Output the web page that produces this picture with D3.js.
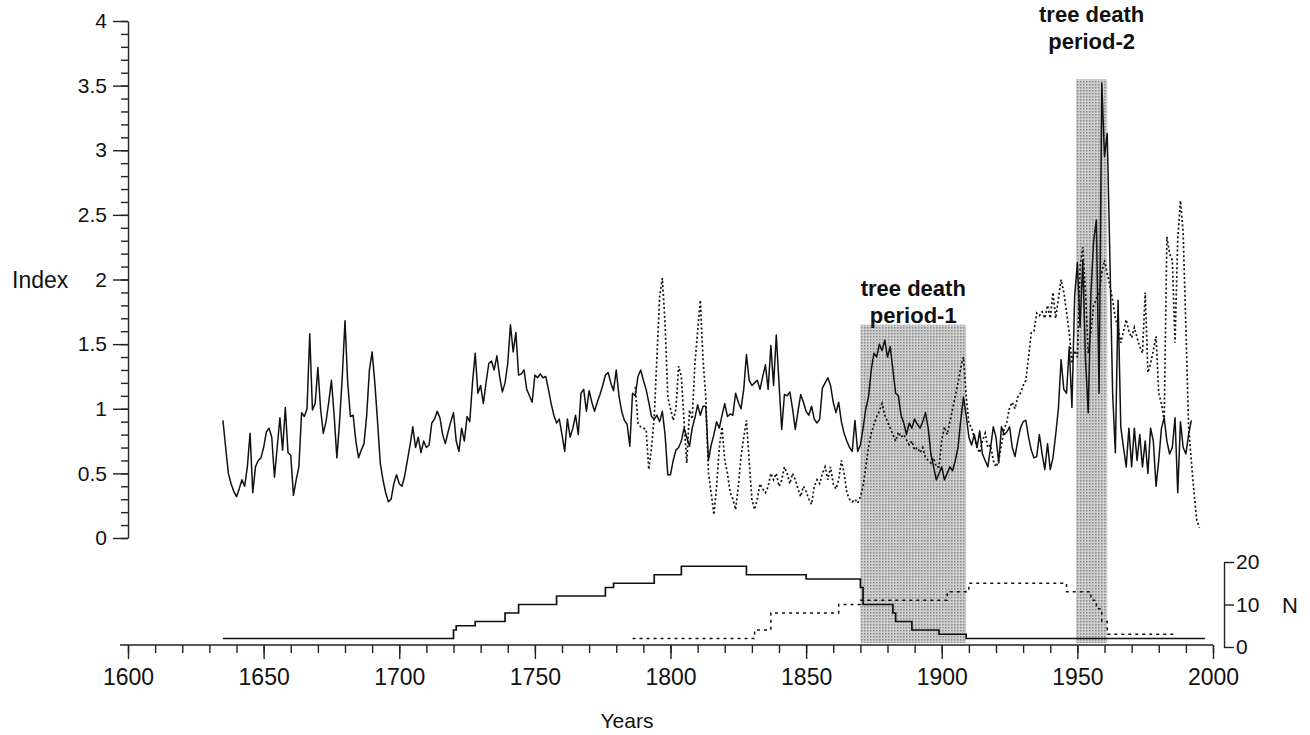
<!DOCTYPE html>
<html>
<head>
<meta charset="utf-8">
<script src="https://cdn.jsdelivr.net/npm/d3@7"></script>
<style>
  body { margin: 0; background: #fff; }
  svg { font-family: "Liberation Sans", Arial, sans-serif; }
  .axis text { font-size: 21px; fill: #111; }
  .axis.years text { font-size: 23px; }
  .axis line, .axis path { stroke: #222; stroke-width: 1.4; }
</style>
</head>
<body>
<svg width="1310" height="735"></svg>
<script>
// index series, one value per year
const solidStart = 1635;
const solidValues = [
  0.91, 0.70, 0.50, 0.42, 0.36,
  0.32, 0.38, 0.45, 0.40, 0.55, 0.81, 0.35, 0.55, 0.60, 0.62,
  0.70, 0.82, 0.85, 0.78, 0.47, 0.70, 0.93, 0.68, 1.01, 0.66,
  0.64, 0.33, 0.45, 0.55, 0.97, 0.94, 1.00, 1.58, 0.99, 1.04,
  1.32, 1.00, 0.81, 0.90, 1.05, 1.22, 0.95, 0.62, 0.90, 1.25,
  1.68, 1.20, 0.94, 0.95, 0.75, 0.62, 0.68, 0.73, 0.95, 1.30,
  1.44, 1.20, 0.90, 0.58, 0.45, 0.35, 0.28, 0.30, 0.42, 0.49,
  0.42, 0.40, 0.48, 0.60, 0.72, 0.86, 0.70, 0.78, 0.66, 0.75,
  0.70, 0.72, 0.89, 0.92, 0.98, 0.93, 0.80, 0.73, 0.82, 0.90,
  0.97, 0.75, 0.67, 0.85, 0.75, 0.94, 0.90, 1.20, 1.43, 1.12,
  1.18, 1.04, 1.20, 1.35, 1.37, 1.30, 1.41, 1.25, 1.13, 1.20,
  1.35, 1.65, 1.44, 1.59, 1.26, 1.27, 1.30, 1.15, 1.10, 1.05,
  1.26, 1.24, 1.27, 1.24, 1.25, 1.15, 1.04, 0.95, 0.89, 0.92,
  0.80, 0.67, 0.92, 0.78, 0.85, 0.95, 0.80, 1.12, 1.15, 0.98,
  1.14, 1.05, 0.98, 1.05, 1.11, 1.18, 1.26, 1.28, 1.20, 1.14,
  1.30, 1.10, 0.98, 0.91, 0.88, 0.71, 1.12, 1.10, 1.25, 1.30,
  1.22, 1.15, 1.05, 0.94, 0.92, 0.95, 0.90, 0.98, 0.80, 0.49,
  0.49, 0.60, 0.68, 0.70, 0.75, 0.85, 0.78, 0.71, 0.85, 0.93,
  1.03, 0.95, 1.02, 1.02, 0.60, 0.72, 0.80, 0.90, 0.85, 0.95,
  1.04, 0.94, 0.96, 0.95, 1.12, 1.05, 1.00, 1.15, 1.42, 1.22,
  1.18, 1.20, 1.22, 1.15, 1.25, 1.34, 1.15, 1.49, 1.18, 1.57,
  1.20, 0.84, 1.11, 1.10, 1.13, 1.00, 0.84, 0.98, 1.11, 1.05,
  0.98, 0.95, 1.02, 0.92, 0.89, 0.92, 1.16, 1.20, 1.24, 1.18,
  1.05, 0.97, 1.05, 0.90, 0.81, 0.75, 0.70, 0.67, 0.91, 0.67,
  0.72, 0.85, 1.00, 1.09, 1.30, 1.43, 1.40, 1.50, 1.45, 1.53,
  1.40, 1.48, 1.30, 1.12, 1.10, 0.95, 0.89, 0.80, 0.89, 0.85,
  0.92, 0.88, 0.85, 0.90, 0.97, 0.85, 0.65, 0.55, 0.45, 0.50,
  0.55, 0.45, 0.50, 0.55, 0.52, 0.60, 0.70, 0.91, 1.09, 0.95,
  0.78, 0.72, 0.80, 0.70, 0.83, 0.65, 0.60, 0.55, 0.70, 0.86,
  0.78, 0.58, 0.86, 0.80, 0.82, 0.86, 0.70, 0.63, 0.75, 0.85,
  0.90, 0.91, 0.78, 0.68, 0.62, 0.63, 0.80, 0.65, 0.53, 0.73,
  0.53, 0.62, 0.80, 1.00, 1.38, 1.15, 1.12, 1.48, 1.01, 1.87,
  2.13, 1.63, 2.15, 1.38, 0.97, 1.90, 2.30, 2.46, 1.12, 3.52,
  2.95, 3.13, 2.15, 1.12, 0.66, 1.84, 0.86, 0.70, 0.55, 0.85,
  0.55, 0.85, 0.60, 0.80, 0.55, 0.75, 0.50, 0.85, 0.75, 0.40,
  0.60, 0.85, 0.93, 0.75, 0.65, 0.70, 0.93, 0.35, 0.90, 0.70,
  0.65, 0.80, 0.91
];

const dottedStart = 1787;
const dottedValues = [
  1.17, 0.89, 0.86,
  0.85, 0.84, 0.53, 0.70, 0.94, 1.40, 1.87, 2.01, 1.66, 1.09,
  1.00, 0.91, 1.00, 1.33, 1.25, 0.90, 0.58, 0.99, 0.92, 1.35,
  1.60, 1.84, 1.38, 1.09, 0.50, 0.35, 0.18, 0.40, 0.70, 0.86,
  0.60, 0.50, 0.35, 0.30, 0.22, 0.40, 0.63, 0.78, 0.91, 0.60,
  0.30, 0.22, 0.30, 0.42, 0.38, 0.35, 0.40, 0.50, 0.45, 0.50,
  0.40, 0.45, 0.55, 0.50, 0.42, 0.50, 0.45, 0.38, 0.32, 0.40,
  0.36, 0.30, 0.26, 0.40, 0.45, 0.42, 0.50, 0.55, 0.45, 0.55,
  0.42, 0.38, 0.45, 0.60, 0.50, 0.35, 0.30, 0.28, 0.30, 0.27,
  0.32, 0.40, 0.55, 0.70, 0.81, 0.88, 0.94, 0.98, 1.04, 0.95,
  0.90, 0.85, 0.80, 0.75, 0.82, 0.78, 0.80, 0.76, 0.72, 0.75,
  0.68, 0.70, 0.66, 0.70, 0.62, 0.60, 0.58, 0.62, 0.55, 0.55,
  0.76, 0.86, 0.80, 0.90, 1.00, 1.10, 1.20, 1.32, 1.40, 1.10,
  0.89, 0.85, 0.78, 0.70, 0.66, 0.75, 0.81, 0.70, 0.72, 0.60,
  0.55, 0.60, 0.72, 0.84, 0.90, 1.01, 1.05, 1.00, 1.09, 1.12,
  1.18, 1.22, 1.40, 1.59, 1.60, 1.74, 1.72, 1.75, 1.70, 1.80,
  1.70, 1.90, 1.70, 1.85, 2.00, 1.90, 1.75, 1.59, 1.35, 1.45,
  1.40, 2.10, 2.25, 1.90, 1.43, 1.60, 1.80, 1.85, 1.90, 2.05,
  2.15, 2.05, 1.95, 1.84, 1.70, 1.63, 1.51, 1.60, 1.69, 1.60,
  1.55, 1.63, 1.55, 1.48, 1.43, 1.90, 1.28, 1.35, 1.45, 1.56,
  1.12, 1.04, 0.91, 2.33, 2.20, 2.15, 1.51, 2.31, 2.61, 2.36,
  1.63, 0.86, 0.60, 0.35, 0.14, 0.08
];

// sample depth, [year the step starts, number of trees]
const solidDepth = [
  [1635, 2], [1720, 4], [1721, 5], [1728, 6], [1739, 8], [1744, 10],
  [1758, 12], [1776, 14], [1779, 15], [1794, 17], [1804, 19], [1828, 17],
  [1850, 16], [1870, 14], [1871, 10], [1882, 8], [1883, 6], [1889, 4],
  [1899, 3], [1909, 2], [1997, 2]
];
const dottedDepth = [
  [1786, 2], [1831, 4], [1837, 8], [1862, 10], [1870, 11], [1902, 13],
  [1910, 15], [1946, 13], [1955, 11], [1957, 9], [1959, 6], [1961, 3],
  [1986, 3]
];

// tree death periods
const deathPeriods = [
  { from: 1870, to: 1909, top: 1.65, label: ['tree death', 'period-1'] },
  { from: 1949.5, to: 1961, top: 3.55, label: ['tree death', 'period-2'] }
];
const labelBase = [296, 22];

const indexTicks = d3.range(0, 4.01, 0.5);
const indexMinor = d3.range(0, 4.001, 0.1);
const yearTicks = d3.range(1600, 2001, 50);
const yearMinor = d3.range(1600, 2001, 10);
const depthTicks = [0, 10, 20];

const axisY = 645;

const x = d3.scaleLinear().domain([1600, 2000]).range([128, 1213]);
const y = d3.scaleLinear().domain([0, 4]).range([538, 21]);
const yN = d3.scaleLinear().domain([0, 20]).range([647, 562]);

const svg = d3.select('svg');

// stipple pattern for the shaded periods
const pat = svg.append('defs').append('pattern').
attr('id', 'stipple').
attr('width', 3).
attr('height', 3).
attr('patternUnits', 'userSpaceOnUse');
pat.append('rect').attr('width', 3).attr('height', 3).attr('fill', '#cfcfcf');
pat.append('rect').attr('width', 1.5).attr('height', 1.5).attr('fill', '#8a8a8a');

svg.append('g').
selectAll('rect').
data(deathPeriods).
enter().append('rect').
attr('x', d => x(d.from)).
attr('width', d => x(d.to) - x(d.from)).
attr('y', d => y(d.top)).
attr('height', d => axisY - 2 - y(d.top)).
attr('fill', 'url(#stipple)');

svg.append('g').
selectAll('text').
data(deathPeriods).
enter().append('text').
attr('x', d => (x(d.from) + x(d.to)) / 2).
attr('y', (d, i) => labelBase[i]).
attr('text-anchor', 'middle').
attr('font-weight', 'bold').
attr('font-size', 22).
attr('fill', '#111').
each(function (d) {
  d3.select(this).selectAll('tspan').
  data(d.label).
  enter().append('tspan').
  attr('x', (x(d.from) + x(d.to)) / 2).
  attr('dy', (t, i) => i === 0 ? 0 : 27).
  text(t => t);
});

// index lines
const line = d3.line().x(d => x(d[0])).y(d => y(d[1]));

svg.append('path').
datum(dottedValues.map((v, i) => [dottedStart + i, v])).
attr('d', line).
attr('fill', 'none').
attr('stroke', '#111').
attr('stroke-width', 1.7).
attr('stroke-dasharray', '2,2.4');

svg.append('path').
datum(solidValues.map((v, i) => [solidStart + i, v])).
attr('d', line).
attr('fill', 'none').
attr('stroke', '#111').
attr('stroke-width', 1.5).
attr('stroke-linejoin', 'round');

// sample depth steps
const step = d3.line().curve(d3.curveStepAfter).x(d => x(d[0])).y(d => yN(d[1]));

svg.append('path').
datum(dottedDepth).
attr('d', step).
attr('fill', 'none').
attr('stroke', '#111').
attr('stroke-width', 1.5).
attr('stroke-dasharray', '3,4');

svg.append('path').
datum(solidDepth).
attr('d', step).
attr('fill', 'none').
attr('stroke', '#111').
attr('stroke-width', 1.7);

// Y axis (index)
svg.append('g').
attr('class', 'axis').
attr('transform', 'translate(128,0)').
call(d3.axisLeft(y).tickValues(indexMinor).tickSize(7).tickFormat('')).
call(g => g.select('.domain').remove());

svg.append('g').
attr('class', 'axis').
attr('transform', 'translate(128,0)').
call(d3.axisLeft(y).tickValues(indexTicks).tickSize(15).tickSizeOuter(0).tickPadding(6).tickFormat(d => d));

// X axis (years)
svg.append('line').
attr('x1', 120).attr('x2', x(2000)).
attr('y1', axisY).attr('y2', axisY).
attr('stroke', '#222').attr('stroke-width', 1.6);

svg.append('g').
attr('class', 'axis').
attr('transform', `translate(0,${axisY})`).
call(d3.axisBottom(x).tickValues(yearMinor).tickSize(8).tickFormat('')).
call(g => g.select('.domain').remove());

svg.append('g').
attr('class', 'axis years').
attr('transform', `translate(0,${axisY})`).
call(d3.axisBottom(x).tickValues(yearTicks).tickSize(14).tickPadding(10).tickFormat(d3.format('d'))).
call(g => g.select('.domain').remove());

// right axis (sample depth N)
svg.append('g').
attr('class', 'axis').
attr('transform', 'translate(1224,0)').
call(d3.axisRight(yN).tickValues(depthTicks).tickSize(10).tickSizeOuter(0).tickPadding(2));

// labels
svg.append('text').
attr('x', 12).attr('y', y(2) + 8).
attr('font-size', 23).attr('fill', '#111').
text('Index');

svg.append('text').
attr('x', 627).attr('y', 728).
attr('text-anchor', 'middle').
attr('font-size', 21).attr('fill', '#111').
text('Years');

svg.append('text').
attr('x', 1290).attr('y', yN(10) + 8).
attr('text-anchor', 'middle').
attr('font-size', 22).attr('fill', '#111').
text('N');
</script>
</body>
</html>
